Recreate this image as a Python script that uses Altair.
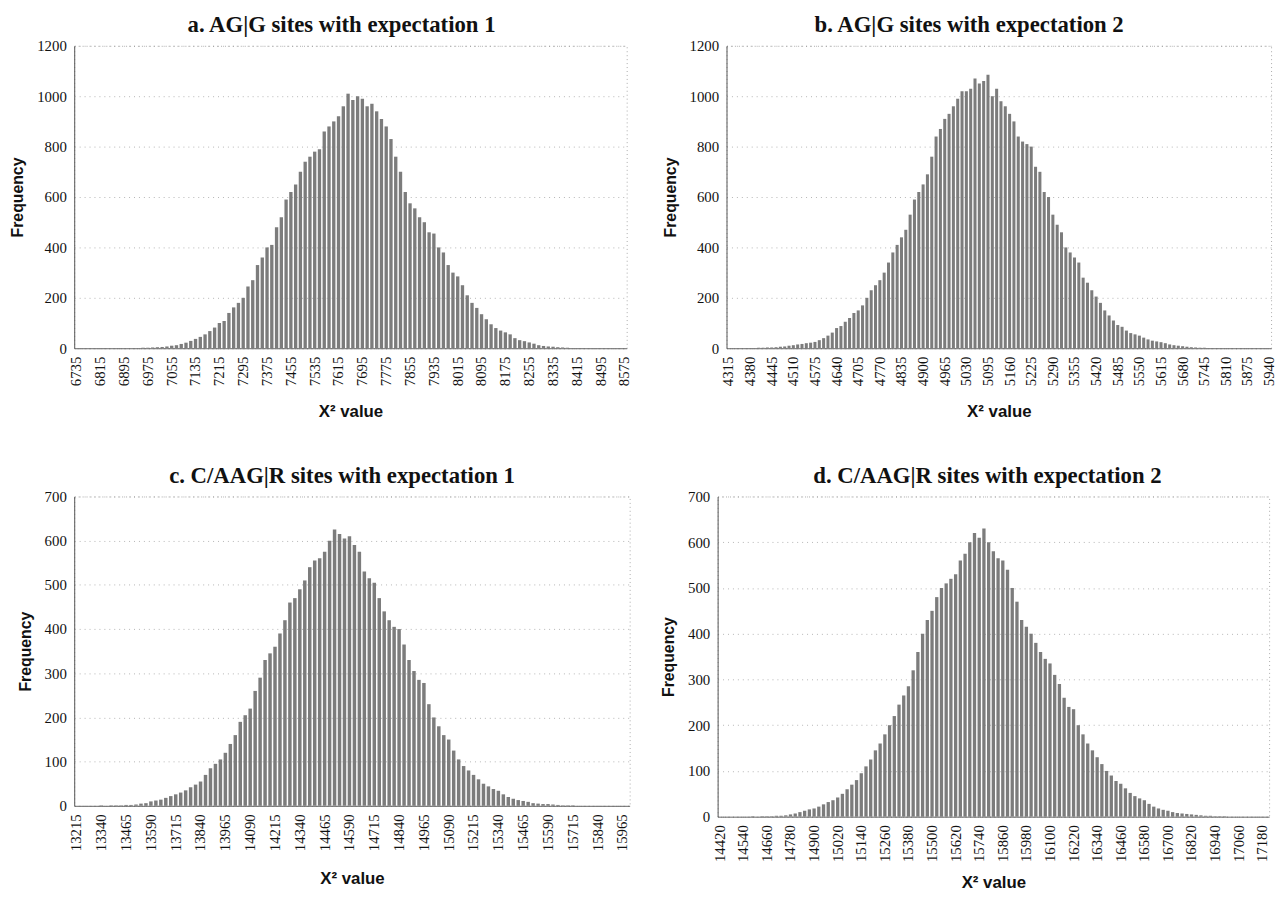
import altair as alt
import pandas as pd

# ---------------- Panel a: AG|G sites, expectation 1 (bins of 16) ----------------
a_first, a_width = 6735, 16
a_freq = [
    0, 0, 0, 0, 0,
    0, 1, 0, 0, 1,
    0, 1, 1, 1, 2,
    2, 3, 4, 5, 7,
    10, 12, 17, 22, 29,
    37, 45, 55, 68, 82,
    100, 108, 140, 162, 180,
    200, 245, 270, 330, 360,
    400, 410, 480, 520, 590,
    620, 650, 700, 740, 760,
    780, 790, 860, 880, 900,
    920, 960, 1010, 985, 1000,
    990, 960, 970, 940, 910,
    880, 830, 760, 700, 620,
    575, 555, 520, 500, 460,
    455, 400, 380, 330, 300,
    285, 250, 210, 180, 160,
    135, 115, 95, 80, 70,
    63, 55, 40, 32, 28,
    23, 18, 12, 9, 7,
    6, 4, 3, 2, 1,
    1, 1, 0, 0, 0,
    0, 0, 0, 0, 0,
    0,
]
a_ticks = [6735, 6815, 6895, 6975, 7055, 7135, 7215, 7295, 7375, 7455, 7535, 7615,
           7695, 7775, 7855, 7935, 8015, 8095, 8175, 8255, 8335, 8415, 8495, 8575]

# ---------------- Panel b: AG|G sites, expectation 2 (bins of 13) ----------------
b_first, b_width = 4315, 13
b_freq = [
    0, 0, 0, 1, 1,
    1, 1, 2, 2, 3,
    3, 4, 6, 7, 10,
    12, 15, 17, 20, 22,
    25, 32, 40, 50, 62,
    80, 88, 105, 120, 140,
    150, 170, 200, 230, 250,
    270, 300, 340, 380, 410,
    440, 470, 530, 590, 620,
    650, 690, 760, 840, 870,
    910, 930, 960, 990, 1020,
    1020, 1030, 1070, 1050, 1060,
    1085, 1000, 1030, 980, 960,
    930, 900, 840, 820, 810,
    800, 720, 700, 620, 600,
    530, 490, 460, 400, 380,
    360, 340, 280, 260, 230,
    205, 180, 150, 130, 110,
    92, 85, 70, 60, 55,
    50, 42, 35, 30, 27,
    24, 20, 15, 12, 10,
    8, 6, 4, 3, 2,
    2, 1, 1, 1, 0,
    0, 0, 0, 0, 0,
    0, 0, 0, 0, 0,
    0,
]
b_ticks = [4315, 4380, 4445, 4510, 4575, 4640, 4705, 4770, 4835, 4900, 4965, 5030, 5095,
           5160, 5225, 5290, 5355, 5420, 5485, 5550, 5615, 5680, 5745, 5810, 5875, 5940]

# ---------------- Panel c: C/AAG|R sites, expectation 1 (bins of 25) ----------------
c_first, c_width = 13215, 25
c_freq = [
    0, 0, 0, 0, 0,
    1, 0, 1, 1, 1,
    2, 2, 3, 5, 6,
    10, 12, 14, 18, 22,
    26, 30, 35, 42, 48,
    55, 70, 85, 95, 105,
    120, 140, 160, 190, 205,
    220, 260, 290, 330, 345,
    360, 390, 420, 460, 470,
    490, 510, 540, 555, 560,
    575, 600, 625, 615, 605,
    610, 590, 575, 530, 515,
    505, 470, 440, 420, 405,
    400, 365, 330, 305, 285,
    278, 230, 200, 180, 160,
    150, 125, 105, 90, 80,
    70, 60, 50, 44, 38,
    34, 26, 20, 16, 13,
    11, 9, 6, 5, 4,
    4, 3, 2, 1, 1,
    1, 0, 0, 0, 0,
    0, 0, 0, 0, 0,
    0, 0,
]
c_ticks = [13215, 13340, 13465, 13590, 13715, 13840, 13965, 14090, 14215, 14340, 14465, 14590,
           14715, 14840, 14965, 15090, 15215, 15340, 15465, 15590, 15715, 15840, 15965]

# ---------------- Panel d: C/AAG|R sites, expectation 2 (bins of 24) ----------------
d_first, d_width = 14420, 24
d_freq = [
    0, 0, 0, 0, 0,
    0, 0, 1, 0, 1,
    1, 1, 2, 2, 3,
    5, 7, 10, 13, 16,
    18, 22, 27, 32, 36,
    42, 50, 60, 70, 80,
    95, 110, 125, 145, 160,
    180, 200, 220, 245, 265,
    285, 320, 360, 400, 430,
    450, 480, 500, 510, 520,
    530, 560, 575, 600, 620,
    610, 630, 600, 580, 565,
    560, 540, 500, 470, 430,
    415, 400, 380, 360, 345,
    335, 310, 290, 260, 240,
    235, 200, 180, 160, 145,
    130, 115, 100, 90, 78,
    72, 62, 52, 45, 40,
    36, 28, 22, 18, 15,
    13, 10, 8, 7, 6,
    5, 4, 3, 2, 2,
    1, 1, 1, 0, 0,
    0, 0, 0, 0, 0,
    0, 0,
]
d_ticks = [14420, 14540, 14660, 14780, 14900, 15020, 15140, 15260, 15380, 15500, 15620, 15740,
           15860, 15980, 16100, 16220, 16340, 16460, 16580, 16700, 16820, 16940, 17060, 17180]

titles = ["a. AG|G sites with expectation 1", "b. AG|G sites with expectation 2",
          "c. C/AAG|R sites with expectation 1", "d. C/AAG|R sites with expectation 2"]

SERIF = "Liberation Serif"
SANS = "Liberation Sans"


def panel(first, width, freqs, ticks, title, ymax, ystep, w, h, lab_fs, ttl_fs,
          dx, toff, xtitle_pad):
    cats = [str(first + width * i) for i in range(len(freqs))]
    df = pd.DataFrame({"x": cats, "f": freqs})
    return alt.Chart(
        df,
        title=alt.Title(title, dx=dx, offset=toff, frame="group", anchor="middle",
                        font=SERIF, fontSize=23, fontWeight="bold", color="#111111"),
    ).mark_bar(color="#7c7c7c").encode(
        x=alt.X("x:O", sort=None,
                scale=alt.Scale(paddingInner=0.3, paddingOuter=0.1),
                axis=alt.Axis(values=[str(t) for t in ticks], labelAngle=-90,
                              title="X² value", titleFont=SANS, titleFontSize=ttl_fs,
                              titleFontWeight="bold", titleColor="#111111",
                              titlePadding=xtitle_pad,
                              labelFont=SERIF, labelFontSize=lab_fs, labelColor="#111111",
                              labelPadding=8, ticks=False, tickSize=0,
                              domainColor="#666666", domainWidth=1, grid=False)),
        y=alt.Y("f:Q", scale=alt.Scale(domain=[0, ymax], nice=False),
                axis=alt.Axis(values=list(range(0, ymax + 1, ystep)), format="d",
                              title="Frequency",
                              titleFont=SANS, titleFontSize=16, titleFontWeight="bold",
                              titleColor="#111111", titlePadding=11,
                              labelFont=SERIF, labelFontSize=lab_fs, labelColor="#111111",
                              labelPadding=8, ticks=False, tickSize=0,
                              domainColor="#555555", domainWidth=1,
                              grid=True, gridColor="#8a8a8a", gridDash=[1, 4],
                              gridWidth=0.8, gridOpacity=0.8)),
    ).properties(width=w, height=h)


pa = panel(a_first, a_width, a_freq, a_ticks, titles[0], 1200, 200, 559, 306, 15, 17, -9, 2, 18)
pb = panel(b_first, b_width, b_freq, b_ticks, titles[1], 1200, 200, 551, 306, 15, 17, -30, 2, 18)
pc = panel(c_first, c_width, c_freq, c_ticks, titles[2], 700, 100, 562, 313, 15, 17, -10, 2, 20)
pd_ = panel(d_first, d_width, d_freq, d_ticks, titles[3], 700, 100, 558, 324, 15, 17, -6, 2, 13)

top = alt.hconcat(pa, pb, spacing=29)
bottom = alt.hconcat(pc, pd_, spacing=30)

chart = alt.vconcat(top, bottom, spacing=44).properties(
    padding={"left": 1, "top": 0, "right": 0, "bottom": 0},
    background="white",
).configure_view(
    stroke="#aaaaaa", strokeDash=[1, 3], strokeWidth=1
)

chart.save("out.html", embed_options={"renderer": "svg", "actions": False})
